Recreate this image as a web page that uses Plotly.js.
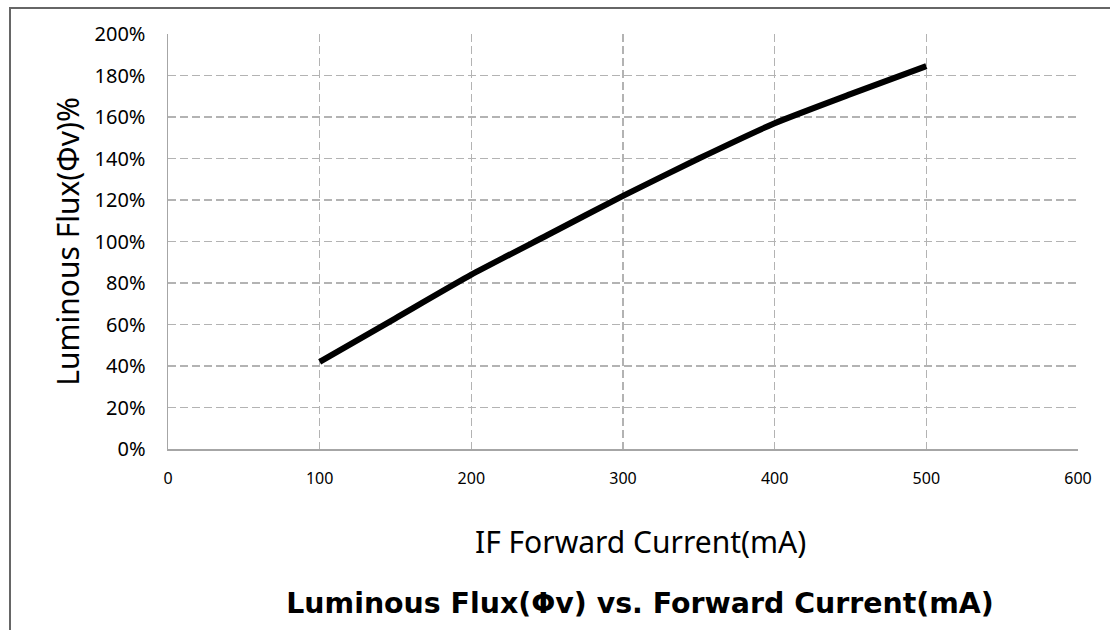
<!DOCTYPE html>
<html>
<head>
<meta charset="utf-8">
<script src="https://cdn.plot.ly/plotly-3.0.1.min.js"></script>
<style>
  html, body { margin: 0; padding: 0; background: #fff; overflow: hidden; }
  #frame { position: absolute; left: 9px; top: 7px; width: 1200px; height: 700px; border: 2px solid #666; box-sizing: border-box; }
  #chart { position: absolute; left: 0; top: 0; width: 1110px; height: 630px; }
</style>
</head>
<body>
<div id="frame"></div>
<div id="chart"></div>
<script>
// Forward current (mA)
const currentMA = [100, 150, 200, 250, 300, 350, 400, 450, 500];
// Relative luminous flux (%)
const fluxPct = [42, 63, 84, 103, 122, 140, 157, 171, 184.5];

const xTickVals = [0, 100, 200, 300, 400, 500, 600];
const yTickVals = [0, 20, 40, 60, 80, 100, 120, 140, 160, 180, 200];
const yTickText = yTickVals.map(v => v + '%');

const chartTitle = 'Luminous Flux(Φv) vs. Forward Current(mA)';
const xTitle = 'IF Forward Current(mA)';
const yTitle = 'Luminous Flux(Φv)%';

const trace = {
  x: currentMA,
  y: fluxPct,
  type: 'scatter',
  mode: 'lines',
  line: { color: '#000000', width: 6, shape: 'spline', smoothing: 0.5 },
  hoverinfo: 'x+y'
};

const gridStyle = { gridcolor: '#b3b3b3', gridwidth: 1.3, griddash: '8px,4px' };
const sans = '"Noto Sans", "Open Sans", sans-serif';

const layout = {
  width: 1110,
  height: 630,
  paper_bgcolor: 'rgba(0,0,0,0)',
  plot_bgcolor: 'rgba(0,0,0,0)',
  margin: { l: 168, r: 32, t: 34, b: 181 },
  showlegend: false,
  title: {
    text: '<b>' + chartTitle + '</b>',
    font: { family: 'DejaVu Sans', size: 28.4, color: '#000' },
    xref: 'paper', x: (640 - 168) / 910, xanchor: 'center',
    yref: 'container', y: 1 - 603 / 630, yanchor: 'middle'
  },
  xaxis: Object.assign({
    range: [0, 600],
    tickvals: xTickVals,
    ticks: '',
    ticklabelstandoff: 14,
    tickfont: { family: sans, size: 16, color: '#000' },
    showgrid: true,
    zeroline: false,
    showline: true, linecolor: '#a6a6a6', linewidth: 1.5,
    fixedrange: true
  }, gridStyle),
  yaxis: Object.assign({
    range: [0, 200],
    tickvals: yTickVals,
    ticktext: yTickText,
    ticks: '',
    ticklabelstandoff: 17,
    tickfont: { family: sans, size: 20, color: '#000' },
    showgrid: true,
    zeroline: false,
    showline: true, linecolor: '#a6a6a6', linewidth: 1.5,
    title: { text: yTitle, font: { family: sans, size: 30, color: '#000' }, standoff: 6 },
    fixedrange: true
  }, gridStyle),
  annotations: [{
    text: xTitle,
    xref: 'paper', x: (640 - 168) / 910, xanchor: 'center',
    yref: 'paper', y: 0, yanchor: 'middle', yshift: -92,
    showarrow: false,
    font: { family: sans, size: 30, color: '#000' }
  }]
};

Plotly.newPlot('chart', [trace], layout, { displayModeBar: false, staticPlot: true });
</script>
</body>
</html>
